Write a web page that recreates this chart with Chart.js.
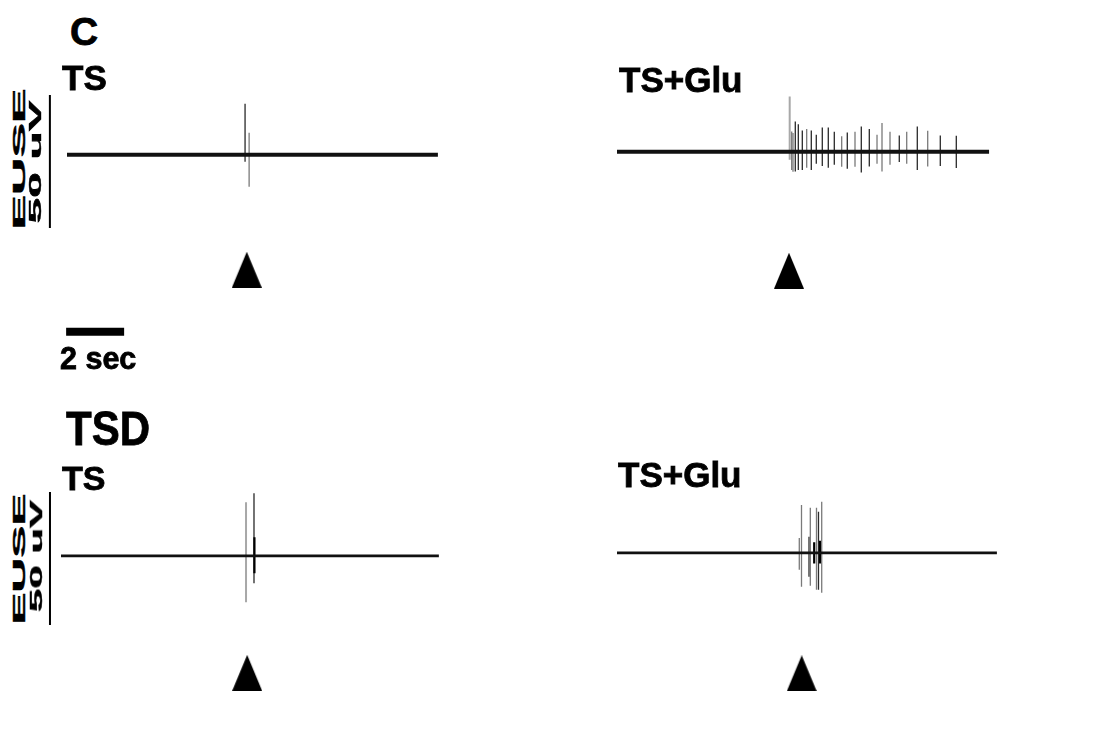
<!DOCTYPE html>
<html>
<head>
<meta charset="utf-8">
<script src="https://cdn.jsdelivr.net/npm/chart.js@4"></script>
<style>
  html, body { margin: 0; background: #fff; overflow: hidden; }
  body { width: 1098px; height: 747px; position: relative; font-family: "Liberation Sans", Arial, sans-serif; font-weight: bold; color: #000; }
  canvas { position: absolute; }
  .lbl { position: absolute; line-height: 1; white-space: nowrap; -webkit-text-stroke: 0.8px #000; }
  .rot { position: absolute; line-height: 1; white-space: nowrap; -webkit-text-stroke: 0.4px #000; }
</style>
</head>
<body>
<script>
// spike trains: time (s), peak up (uV), peak down (uV), shade
const ctlTsT = [6.14, 6.28];
const ctlTsUp = [19.2, 8.3];
const ctlTsDown = [-2.6, -12.0];
const ctlTsShade = ['d', 'g'];

const ctlGluT = [5.955, 6.024, 6.069, 6.148, 6.252, 6.390, 6.541, 6.700, 6.872, 7.079, 7.286, 7.493, 7.748,
  7.941, 8.207, 8.424, 8.700, 8.966, 9.138, 9.414, 9.734, 9.990, 10.355, 10.714, 11.148, 11.700];
const ctlGluUp = [20.8, 7.6, 7.1, 11.4, 10.4, 8.0, 8.6, 8.0, 6.4, 9.1, 9.1, 7.5, 5.8,
  7.3, 7.5, 9.5, 8.6, 6.4, 10.8, 7.5, 6.1, 7.5, 9.5, 7.9, 6.1, 6.0];
const ctlGluDown = [-3.0, -6.8, -7.5, -7.4, -6.8, -6.8, -6.0, -6.8, -4.5, -5.3, -6.0, -4.9, -5.6,
  -6.4, -5.6, -7.8, -5.5, -4.5, -7.4, -4.9, -3.8, -4.5, -6.8, -5.5, -5.3, -6.1];
const ctlGluShade = ['l', 'g', 'g', 'd', 'd', 'd', 'g', 'd', 'd', 'd', 'd', 'd', 'g',
  'd', 'g', 'd', 'd', 'g', 'g', 'g', 'd', 'g', 'd', 'g', 'd', 'd'];

const tsdTsT = [6.38, 6.655, 6.67];
const tsdTsUp = [20.1, 23.5, 7.0];
const tsdTsDown = [-17.5, -10.3, -6.6];
const tsdTsShade = ['l', 'd', 'k'];

const tsdGluT = [6.286, 6.362, 6.621, 6.666, 6.80, 6.879, 6.948, 7.00, 7.059];
const tsdGluUp = [5.6, 18.0, 6.0, 16.9, 4.0, 16.9, 15.4, 4.5, 19.2];
const tsdGluDown = [-6.4, -12.8, -9.0, -12.4, -4.0, -13.9, -13.9, -4.0, -15.0];
const tsdGluShade = ['g', 'g', 'd', 'g', 'k', 'g', 'd', 'k', 'g'];

const traceEnd = [12.79, 12.83, 13.03, 13.10];   // s
const stimTime = [6.20, 5.93, 6.42, 6.37];       // s, stimulus arrowheads
const scaleUV = 50;   // vertical scale bar
const scaleSec = 2;   // horizontal scale bar

// layout
const PX_S = 29, PX_UV = 2.66;
const W = 420, H = 280, X_MIN = -1, Y_MAX = 30;
const SHADES = {
  k: { c: '#000', w: 2.2 },
  d: { c: '#2a2a2a', w: 1.3 },
  g: { c: '#7a7a7a', w: 1.3 },
  l: { c: '#a8a8a8', w: 2 }
};

const panels = [
  { t: ctlTsT, up: ctlTsUp, down: ctlTsDown, shade: ctlTsShade, x0: 67, base: 155, lw: 4, barX: -0.59, barTop: 22.5, arrowY: -43.2, timeBar: true },
  { t: ctlGluT, up: ctlGluUp, down: ctlGluDown, shade: ctlGluShade, x0: 617, base: 152, lw: 4, arrowY: -44.7 },
  { t: tsdTsT, up: tsdTsUp, down: tsdTsDown, shade: tsdTsShade, x0: 61, base: 555.5, lw: 2.8, barX: -0.38, barTop: 24, arrowY: -44.0 },
  { t: tsdGluT, up: tsdGluUp, down: tsdGluDown, shade: tsdGluShade, x0: 617, base: 553, lw: 2.8, arrowY: -45.3 }
];

// arrowhead glyph
const tri = document.createElement('canvas');
tri.width = 30; tri.height = 36;
const tc = tri.getContext('2d');
tc.beginPath(); tc.moveTo(0, 36); tc.lineTo(15, 0); tc.lineTo(30, 36); tc.closePath();
tc.fillStyle = '#000'; tc.fill();

panels.forEach((p, i) => {
  const cv = document.createElement('canvas');
  cv.width = W; cv.height = H;
  cv.style.left = (p.x0 + X_MIN * PX_S) + 'px';
  cv.style.top = (p.base - Y_MAX * PX_UV) + 'px';
  document.body.appendChild(cv);

  const pts = [];
  p.t.forEach((t, k) => {
    pts.push({ x: t, y: p.up[k] }, { x: t, y: p.down[k] }, { x: t, y: null });
  });
  const sh = c => SHADES[p.shade[Math.floor(c.p0DataIndex / 3)]];

  const datasets = [
    { data: [{ x: 0, y: 0 }, { x: traceEnd[i], y: 0 }], borderColor: '#111', borderWidth: p.lw },
    { data: pts, spanGaps: false, borderColor: '#333', borderWidth: 1,
      segment: { borderColor: c => sh(c).c, borderWidth: c => sh(c).w } },
    { data: [{ x: stimTime[i], y: p.arrowY }], showLine: false, pointStyle: tri, pointRadius: 10 }
  ];
  if (p.barX !== undefined) {
    datasets.push({ data: [{ x: p.barX, y: p.barTop }, { x: p.barX, y: p.barTop - scaleUV }], borderColor: '#000', borderWidth: 2 });
  }
  if (p.timeBar) {
    datasets.push({ data: [{ x: -0.03, y: -66.5 }, { x: -0.03 + scaleSec, y: -66.5 }], borderColor: '#000', borderWidth: 8 });
  }
  datasets.forEach(d => {
    d.showLine = d.showLine !== false;
    if (d.pointRadius === undefined) d.pointRadius = 0;
    d.borderCapStyle = 'butt';
    d.clip = false;
  });

  new Chart(cv.getContext('2d'), {
    type: 'scatter',
    data: { datasets },
    options: {
      responsive: false,
      animation: false,
      events: [],
      layout: { padding: 0, autoPadding: false },
      plugins: { legend: { display: false }, tooltip: { enabled: false } },
      scales: {
        x: { type: 'linear', display: false, min: X_MIN, max: X_MIN + W / PX_S },
        y: { type: 'linear', display: false, min: Y_MAX - H / PX_UV, max: Y_MAX }
      }
    }
  });
});

// labels
function label(text, left, capTop, fs, sx) {
  const d = document.createElement('div');
  d.className = 'lbl';
  d.textContent = text;
  d.style.left = left + 'px';
  d.style.top = (capTop - 0.1305 * fs) + 'px';
  d.style.fontSize = fs + 'px';
  if (sx) { d.style.transformOrigin = '0 0'; d.style.transform = 'scaleX(' + sx + ')'; }
  document.body.appendChild(d);
}
function vlabel(text, cx, cy, fs, s) {
  const d = document.createElement('div');
  d.className = 'rot';
  d.textContent = text;
  d.style.left = cx + 'px';
  d.style.top = cy + 'px';
  d.style.fontSize = fs + 'px';
  d.style.transform = 'translate(-50%,-50%) rotate(-90deg) scale(' + s + ',1)';
  document.body.appendChild(d);
}
label('C', 70, 17, 39);
label('TS', 62, 65, 35);
label('TS+Glu', 619, 66.7, 35);
label('2 sec', 60, 347, 30.5);
label('TSD', 66, 411.7, 48, 0.875);
label('TS', 62, 465, 34);
label('TS+Glu', 618, 461.7, 35);
vlabel('EUSE', 19, 158.5, 17, 3.05);
vlabel('50 uV', 36, 161.5, 16, 2.88);
vlabel('EUSE', 19, 558.5, 17, 2.83);
vlabel('50 uV', 37, 556, 16, 2.62);
</script>
</body>
</html>
